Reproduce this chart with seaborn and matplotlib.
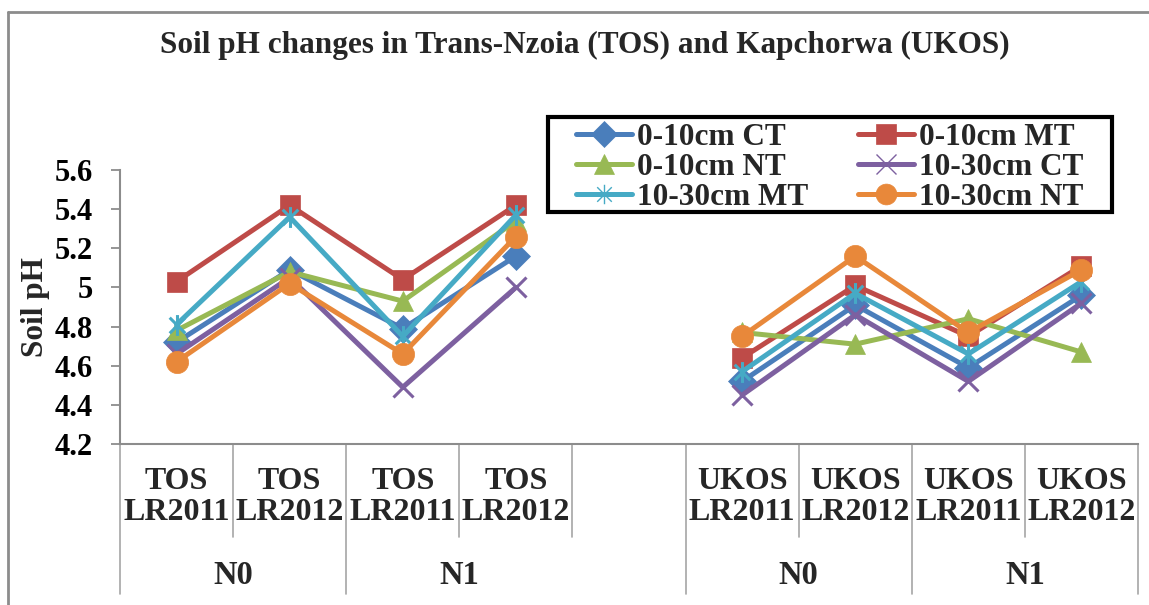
import numpy as np
import pandas as pd
import seaborn as sns
import matplotlib
matplotlib.use("Agg")
import matplotlib.pyplot as plt
from matplotlib.lines import Line2D
from matplotlib.patches import Rectangle
from matplotlib.path import Path

# ---- data -------------------------------------------------------------
sites = ["TOS", "TOS", "TOS", "TOS", None, "UKOS", "UKOS", "UKOS", "UKOS"]
seasons = ["LR2011", "LR2012", "LR2011", "LR2012", None,
           "LR2011", "LR2012", "LR2011", "LR2012"]
nitrogen_groups = ["N0", "N1", "N0", "N1"]
group_spans = [(0, 1), (2, 3), (5, 6), (7, 8)]

series_names = ["0-10cm CT", "0-10cm MT", "0-10cm NT",
                "10-30cm CT", "10-30cm MT", "10-30cm NT"]
ct_0_10 = [4.72, 5.09, 4.79, 5.16, None, 4.52, 4.91, 4.59, 4.96]
mt_0_10 = [5.03, 5.42, 5.04, 5.42, None, 4.64, 5.01, 4.75, 5.11]
nt_0_10 = [4.78, 5.08, 4.93, 5.34, None, 4.77, 4.71, 4.84, 4.67]
ct_10_30 = [4.66, 5.05, 4.49, 5.00, None, 4.45, 4.86, 4.52, 4.92]
mt_10_30 = [4.81, 5.36, 4.75, 5.37, None, 4.57, 4.97, 4.66, 5.03]
nt_10_30 = [4.62, 5.02, 4.66, 5.26, None, 4.75, 5.16, 4.77, 5.09]
series_values = [ct_0_10, mt_0_10, nt_0_10, ct_10_30, mt_10_30, nt_10_30]

y_ticks = [4.2, 4.4, 4.6, 4.8, 5.0, 5.2, 5.4, 5.6]

# ---- styling ----------------------------------------------------------
colors = ["#4A7EBB", "#BE4B48", "#98B954", "#7D60A0", "#46AAC5", "#E8883A"]
star = Path([(0, -1), (0, 1), (-0.75, -0.75), (0.75, 0.75),
             (-0.75, 0.75), (0.75, -0.75)],
            [Path.MOVETO, Path.LINETO, Path.MOVETO, Path.LINETO,
             Path.MOVETO, Path.LINETO])
markers = ["D", "s", "^", "x", star, "o"]
marker_sizes = [14, 15, 15, 15, 15, 16]
legend_sizes = [13, 14, 14, 14, 14, 15]


def is_line_marker(m):
    return isinstance(m, Path) or m == "x"


sns.set_theme(style="white")
plt.rcParams["font.family"] = ["Liberation Serif", "DejaVu Serif"]
plt.rcParams["font.weight"] = "bold"

W, H = 1149, 605
fig = plt.figure(figsize=(W / 100, H / 100), dpi=100)
ax_left, ax_right, ax_top, ax_bottom = 120, 1138, 170, 444
ax = fig.add_axes([ax_left / W, 1 - ax_bottom / H,
                   (ax_right - ax_left) / W, (ax_bottom - ax_top) / H])

# long-form table, one row per plotted point
rows = []
for name, vals in zip(series_names, series_values):
    for pos, (site, v) in enumerate(zip(sites, vals)):
        if v is not None:
            rows.append({"pos": pos, "pH": v, "series": name, "site": site})
df = pd.DataFrame(rows)

for name, c, m, ms in zip(series_names, colors, markers, marker_sizes):
    sub = df[df["series"] == name]
    sns.lineplot(data=sub, x="pos", y="pH", units="site", estimator=None,
                 sort=False, ax=ax, color=c, linewidth=3.6, marker=m,
                 markersize=ms, markeredgecolor=c, markerfacecolor=c,
                 markeredgewidth=2.2 if is_line_marker(m) else 0.5,
                 legend=False)

ax.set_xlim(-0.5, len(sites) - 0.5)
ax.set_ylim(4.2, 5.6)
ax.set_yticks(y_ticks)
ax.set_yticklabels([f"{t:g}" for t in y_ticks], fontsize=22, fontweight="bold")
ax.set_xticks([])
ax.set_xlabel("")
ax.set_ylabel("Soil pH", fontsize=22.5, fontweight="bold")
ax.yaxis.set_label_coords((50 - ax_left) / (ax_right - ax_left), 0.5)

for side in ["top", "right"]:
    ax.spines[side].set_visible(False)
for side in ["left", "bottom"]:
    ax.spines[side].set_color("#8C8C8C")
    ax.spines[side].set_linewidth(1.5)
ax.tick_params(axis="y", left=True, length=6.5, width=1.3, color="#8C8C8C",
               pad=13, labelcolor="black")

# ---- hierarchical category axis --------------------------------------
xt = ax.get_xaxis_transform()
ax_h = ax_bottom - ax_top
inner_depth = -(537 - ax_bottom) / ax_h
outer_depth = -(594 - ax_bottom) / ax_h
line_kw = dict(color="#A6A6A6", lw=1.2, transform=xt, clip_on=False)

for pos, (site, season) in enumerate(zip(sites, seasons)):
    if site is not None:
        ax.text(pos, -(497 - ax_bottom) / ax_h, f"{site}\n{season}",
                transform=xt, ha="center", va="center", fontsize=23,
                fontweight="bold", linespacing=1.1)

# long dividers at the start of each group and at the end of the axis
outer_edges = {s - 0.5 for s, e in group_spans} | {len(sites) - 0.5}
for k in range(len(sites) + 1):
    edge = k - 0.5
    depth = outer_depth if edge in outer_edges else inner_depth
    ax.plot([edge, edge], [0, depth], **line_kw)

for label, (s, e) in zip(nitrogen_groups, group_spans):
    ax.text((s + e) / 2, -(575 - ax_bottom) / ax_h, label, transform=xt,
            ha="center", va="center", fontsize=23.5, fontweight="bold")

# ---- legend (row-major order across two columns) ----------------------
handles = []
for name, c, m, ms in zip(series_names, colors, markers, legend_sizes):
    handles.append(Line2D([], [], color=c, lw=3.6, marker=m, markersize=ms,
                          markeredgecolor=c, markerfacecolor=c,
                          markeredgewidth=1.0 if is_line_marker(m) else 0.5))
order = [0, 2, 4, 1, 3, 5]
leg = fig.legend([handles[i] for i in order], [series_names[i] for i in order],
                 ncol=2, loc="upper left",
                 bbox_to_anchor=(576 / W, 1 - 123 / H),
                 prop={"weight": "bold", "size": 22.5}, frameon=False,
                 borderpad=0, labelspacing=0.03, handlelength=1.8,
                 handletextpad=0.15, columnspacing=1.6, borderaxespad=0)
fig.add_artist(Rectangle((548 / W, 1 - 212 / H), (1112 - 548) / W, (212 - 117) / H,
                         transform=fig.transFigure, fill=False,
                         edgecolor="black", lw=3))

# ---- title and chart border ------------------------------------------
fig.text(585 / W, 1 - 45 / H, "Soil pH changes in Trans-Nzoia (TOS) and Kapchorwa (UKOS)",
         ha="center", va="center", fontsize=22.5, fontweight="bold")
fig.add_artist(Line2D([8 / W, 8 / W], [0, 1 - 12 / H], color="#8C8C8C", lw=2,
                      transform=fig.transFigure))
fig.add_artist(Line2D([8 / W, 1], [1 - 12 / H, 1 - 12 / H], color="#8C8C8C", lw=2,
                      transform=fig.transFigure))

fig.savefig("out.png", dpi=100, facecolor="white")
